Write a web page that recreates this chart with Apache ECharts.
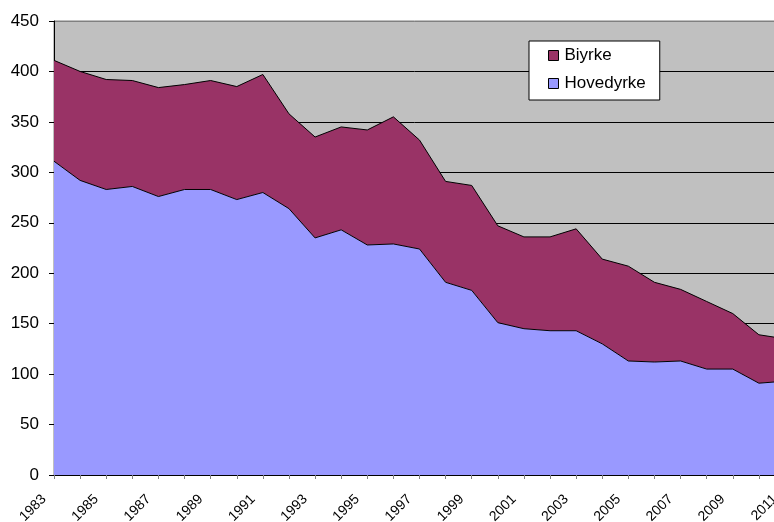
<!DOCTYPE html>
<html>
<head>
<meta charset="utf-8">
<script src="https://cdn.jsdelivr.net/npm/echarts@6/dist/echarts.min.js"></script>
<style>
html, body { margin: 0; padding: 0; background: #fff; }
#chart { width: 774px; height: 522px; }
</style>
</head>
<body>
<div id="chart"></div>
<script>
// år på x-aksen
var years = ['1983', '1984', '1985', '1986', '1987', '1988', '1989', '1990', '1991', '1992',
	'1993', '1994', '1995', '1996', '1997', '1998', '1999', '2000', '2001', '2002',
	'2003', '2004', '2005', '2006', '2007', '2008', '2009', '2010', '2011'];

// hovedyrke (nederst)
var hovedyrke = [311, 292, 283, 286, 276, 283, 283, 273, 280, 264,
	235, 243, 228, 229, 224, 191, 183, 151, 145, 143,
	143, 130, 113, 112, 113, 105, 105, 91, 93];

// biyrke (stablet oppå)
var biyrke = [100, 108, 109, 105, 108, 104, 108, 112, 117, 94,
	100, 102, 114, 126, 108, 100, 104, 96, 91, 93,
	101, 84, 94, 79, 71, 67, 55, 48, 42];

var seriesNames = ['Hovedyrke', 'Biyrke'];
var seriesColors = ['#9999FF', '#993366'];

var myChart = echarts.init(document.getElementById('chart'));

// gridlinjer: svart, men toppen (450) grå som rammen
var splitColors = ['#000', '#000', '#000', '#000', '#000', '#000', '#000', '#000', '#000', '#808080'];

var option = {
	animation : false,
	textStyle : {
		fontFamily : 'Liberation Sans'
	},
	grid : {
		left : 54,
		top : 21,
		bottom : 47,
		right : -11,
		outerBoundsMode : 'none',
		containLabel : false,
		show : true,
		backgroundColor : '#C0C0C0',
		borderColor : '#808080',
		borderWidth : 1
	},
	legend : {
		orient : 'vertical',
		left : 529,
		top : 41,
		padding : [6, 14, 8, 19],
		itemGap : 11,
		itemWidth : 10,
		itemHeight : 10,
		backgroundColor : '#fff',
		borderColor : '#000',
		borderWidth : 1,
		borderRadius : 0,
		textStyle : {
			color : '#000',
			fontSize : 17,
			fontFamily : 'Liberation Sans',
			padding : [0, 0, 0, 1]
		},
		data : [ {
			name : 'Biyrke',
			icon : 'rect',
			itemStyle : { color : seriesColors[1], borderColor : '#000', borderWidth : 1 }
		}, {
			name : 'Hovedyrke',
			icon : 'rect',
			itemStyle : { color : seriesColors[0], borderColor : '#000', borderWidth : 1 }
		} ]
	},
	xAxis : {
		type : 'category',
		boundaryGap : false,
		data : years,
		axisLine : {
			lineStyle : { color : '#000', width : 1 }
		},
		axisTick : {
			show : true,
			interval : 0,
			length : 4,
			lineStyle : { color : '#808080' }
		},
		axisLabel : {
			interval : 1,
			rotate : 45,
			margin : 12,
			padding : [0, 14, 0, 0],
			color : '#000',
			fontSize : 14,
			fontFamily : 'Liberation Sans',
			hideOverlap : false
		},
		splitLine : { show : false }
	},
	yAxis : {
		type : 'value',
		min : 0,
		max : 450,
		interval : 50,
		axisLine : {
			show : true,
			lineStyle : { color : '#000', width : 1 }
		},
		axisTick : {
			show : true,
			length : 5,
			lineStyle : { color : '#000' }
		},
		axisLabel : {
			margin : 15,
			color : '#000',
			fontSize : 17,
			fontFamily : 'Liberation Sans'
		},
		splitLine : {
			show : true,
			lineStyle : { color : splitColors, width : 1 }
		}
	},
	series : [ {
		name : seriesNames[0],
		type : 'line',
		stack : 'yrke',
		data : hovedyrke,
		symbol : 'none',
		lineStyle : { color : '#000', width : 1 },
		itemStyle : { color : seriesColors[0] },
		areaStyle : { color : seriesColors[0], opacity : 1 },
		z : 3
	}, {
		name : seriesNames[1],
		type : 'line',
		stack : 'yrke',
		data : biyrke,
		symbol : 'none',
		lineStyle : { color : '#000', width : 1 },
		itemStyle : { color : seriesColors[1] },
		areaStyle : { color : seriesColors[1], opacity : 1 },
		z : 2
	} ]
};

myChart.setOption(option);
</script>
</body>
</html>
